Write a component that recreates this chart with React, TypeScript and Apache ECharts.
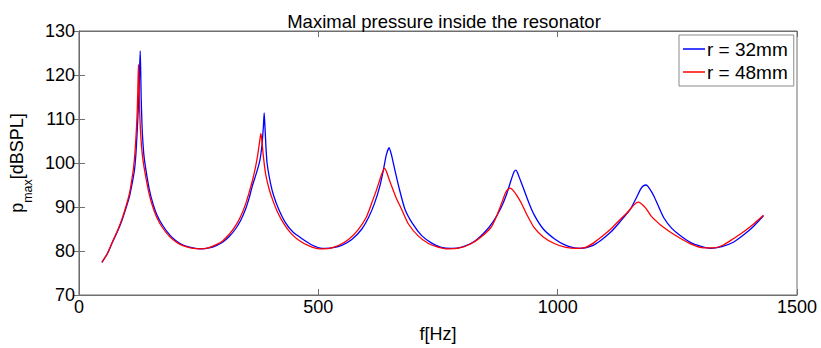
import React, { useEffect, useRef } from "react";
import * as echarts from "echarts";

const titleText = "Maximal pressure inside the resonator";
const seriesNames = ["r = 32mm", "r = 48mm"];
const xTicks = [0, 500, 1000, 1500];
const yTicks = [70, 80, 90, 100, 110, 120, 130];

// r = 32mm : [frequency Hz, maximal pressure dBSPL]
const blueData: number[][] = [
  [48, 77.4], [60, 79.5], [70, 82], [80, 84.3], [90, 87], [100, 90.3], [106, 92.6], [112, 95.8], [116, 98.4],
  [119, 102], [121, 105.8], [123, 110], [124.5, 113.5], [126, 118], [127, 122], [128, 125.5], [129, 121],
  [130, 115], [131.5, 109.5], [133, 105.8], [136, 101.5], [140, 98.4], [147, 94], [154, 91], [163, 88.2],
  [175, 85.8], [190, 83.6], [202, 82.4], [220, 81.2], [238, 80.7], [255, 80.5], [272, 80.7], [288, 81.3],
  [300, 82], [314, 83.3], [327, 85], [338, 87], [348, 89.5], [356, 92.2], [362, 94.7], [371, 97.8],
  [378, 100.6], [382.5, 104.2], [385.5, 108.6], [387, 111.4], [388.5, 108.5], [390.5, 104], [393, 100],
  [400, 95.5], [407, 92.5], [418, 89.3], [431, 86.5], [447, 84.3], [466, 82.8], [488, 81.3], [508, 80.6],
  [528, 80.7], [549, 81.3], [570, 82.6], [591, 85], [605, 87.6], [618, 91], [628, 94.5], [636, 98.4],
  [642, 101.8], [648, 103.5], [653, 101.8], [660, 98.4], [670, 93.8], [681, 89.5], [697, 86.2], [716, 83.5],
  [737, 81.8], [757, 80.8], [778, 80.6], [800, 80.9], [825, 82.1], [847, 84.2], [865, 86.6], [882, 89.9],
  [893, 92.8], [903, 96.2], [909, 98], [913, 98.4], [918, 97.3], [927, 94.7], [939, 91.2], [951, 88.2],
  [970, 85], [993, 82.8], [1015, 81.4], [1035, 80.7], [1048, 80.6], [1070, 81.1], [1090, 82.4], [1111, 84.3],
  [1130, 86.6], [1152, 89.5], [1165, 92.2], [1173, 94], [1179, 94.8], [1185, 95], [1192, 94.2], [1201, 92.5],
  [1212, 89.8], [1222, 87.5], [1238, 85.2], [1256, 83.5], [1278, 81.9], [1298, 81.1], [1319, 80.6],
  [1343, 81], [1367, 82], [1390, 83.8], [1410, 85.7], [1430, 88]
];

// r = 48mm : [frequency Hz, maximal pressure dBSPL]
const redData: number[][] = [
  [48, 77.4], [60, 79.6], [70, 82.1], [80, 84.5], [90, 87.3], [100, 90.8], [106, 93.3], [111, 96.6], [114, 98.8],
  [117, 102.3], [119.5, 106.5], [121.5, 111], [123, 116.5], [124.3, 122.4], [125.5, 118], [126.8, 112],
  [128.5, 107.5], [131, 103.5], [134, 100.5], [138, 97.8], [145, 93.8], [152, 90.8], [162, 87.8],
  [174, 85.4], [190, 83.2], [205, 81.9], [220, 81.1], [238, 80.6], [252, 80.5], [270, 80.7], [288, 81.5],
  [300, 82.3], [314, 83.8], [327, 85.7], [338, 87.9], [348, 90.6], [356, 93.5], [362, 95.8], [368, 98.6],
  [373, 101.5], [377, 104.5], [380, 106.7], [382, 105.3], [385, 101.8], [390, 97.5], [397, 94.2],
  [405, 91.5], [415, 88.8], [428, 86.2], [443, 84], [460, 82.4], [482, 81.1], [503, 80.5], [523, 80.6],
  [543, 81.3], [563, 82.6], [583, 84.8], [600, 87.6], [612, 91], [622, 94], [630, 96.7], [635, 98.2],
  [638, 98.8], [642, 98.2], [647, 96.6], [653, 94.8], [663, 92], [674, 89.5], [688, 86.2], [708, 83.5],
  [730, 81.7], [750, 80.9], [770, 80.5], [795, 80.7], [818, 81.6], [840, 83.2], [861, 85.4], [872, 87.8],
  [882, 90.6], [891, 93.2], [897, 94.1], [901, 94.3], [906, 93.9], [915, 92.6], [924, 90.9], [935, 88.4],
  [951, 85.3], [970, 83.2], [993, 81.7], [1015, 80.9], [1040, 80.6], [1060, 80.9], [1076, 81.9],
  [1095, 83.5], [1111, 85], [1130, 87.1], [1146, 88.8], [1158, 90.3], [1164, 90.9], [1168, 91.1],
  [1174, 90.8], [1181, 90.1], [1187, 89.3], [1195, 88], [1205, 86.9], [1215, 85.9], [1235, 84.3],
  [1256, 82.9], [1280, 81.5], [1305, 80.7], [1325, 80.7], [1345, 81.3], [1367, 82.8], [1390, 84.5],
  [1410, 86.2], [1430, 88.1]
];

const FONT = "'Liberation Sans', Arial, Helvetica, sans-serif";
const AXIS_GREY = "#6e6e6e";

export default function App() {
  const ref = useRef<HTMLDivElement>(null);

  useEffect(() => {
    if (!ref.current) return;
    const chart = echarts.init(ref.current, null, { renderer: "svg" });
    const xMin = xTicks[0];
    const xMax = xTicks[xTicks.length - 1];
    const yMin = yTicks[0];
    const yMax = yTicks[yTicks.length - 1];
    const xInt = xTicks[1] - xTicks[0];
    const yInt = yTicks[1] - yTicks[0];

    const tickStyle = { show: true, inside: true, length: 6, lineStyle: { color: AXIS_GREY, width: 1 } };
    const lineStyleAxis = { show: true, lineStyle: { color: AXIS_GREY, width: 1 } };
    const plain = (v: number) => String(v);

    chart.setOption({
      animation: false,
      backgroundColor: "#ffffff",
      textStyle: { fontFamily: FONT },
      title: {
        text: titleText,
        left: 439,
        textAlign: "center",
        top: 7,
        textStyle: { fontFamily: FONT, fontSize: 18.5, fontWeight: "normal", color: "#000" },
      },
      legend: {
        orient: "vertical",
        left: 679,
        top: 35,
        data: seriesNames.map((n) => ({ name: n, icon: "rect" })),
        itemWidth: 22,
        itemHeight: 1.5,
        itemGap: 3,
        padding: [4, 6, 4, 4],
        borderColor: "#8a8a8a",
        borderWidth: 1,
        backgroundColor: "#ffffff",
        textStyle: { fontFamily: FONT, fontSize: 19, color: "#000", padding: [0, 0, 0, -3], lineHeight: 20 },
      },
      grid: {
        left: 76,
        right: 24,
        top: 31,
        bottom: 47,
        show: true,
        borderColor: AXIS_GREY,
        borderWidth: 1,
        backgroundColor: "#ffffff",
      },
      xAxis: [
        {
          type: "value",
          min: xMin,
          max: xMax,
          interval: xInt,
          position: "bottom",
          name: "f[Hz]",
          nameLocation: "middle",
          nameGap: 30,
          nameTextStyle: { fontFamily: FONT, fontSize: 18, color: "#000" },
          axisLine: lineStyleAxis,
          axisTick: tickStyle,
          axisLabel: { color: "#000", fontSize: 18, fontFamily: FONT, margin: 3, formatter: plain },
          splitLine: { show: false },
        },
        {
          type: "value",
          min: xMin,
          max: xMax,
          interval: xInt,
          position: "top",
          axisLine: lineStyleAxis,
          axisTick: tickStyle,
          axisLabel: { show: false },
          splitLine: { show: false },
        },
      ],
      yAxis: [
        {
          type: "value",
          min: yMin,
          max: yMax,
          interval: yInt,
          position: "left",
          name: "{a|p}{s|max}{a|[dBSPL]}",
          nameLocation: "middle",
          nameRotate: 90,
          nameGap: 37,
          nameTextStyle: {
            fontFamily: FONT,
            color: "#000",
            rich: {
              a: { fontSize: 18, fontFamily: FONT, color: "#000", lineHeight: 22, verticalAlign: "middle" },
              s: { fontSize: 12.5, fontFamily: FONT, color: "#000", lineHeight: 22, verticalAlign: "bottom", padding: [0, 0, -6, 0] },
            },
          },
          axisLine: lineStyleAxis,
          axisTick: tickStyle,
          axisLabel: { color: "#000", fontSize: 18, fontFamily: FONT, margin: 4, formatter: plain },
          splitLine: { show: false },
        },
        {
          type: "value",
          min: yMin,
          max: yMax,
          interval: yInt,
          position: "right",
          axisLine: lineStyleAxis,
          axisTick: tickStyle,
          axisLabel: { show: false },
          splitLine: { show: false },
        },
      ],
      series: [
        {
          name: seriesNames[0],
          type: "line",
          data: blueData,
          showSymbol: false,
          symbol: "none",
          smooth: 0.2,
          lineStyle: { color: "#0000ff", width: 1.3 },
          itemStyle: { color: "#0000ff" },
          z: 2,
        },
        {
          name: seriesNames[1],
          type: "line",
          data: redData,
          showSymbol: false,
          symbol: "none",
          smooth: 0.2,
          lineStyle: { color: "#ff0000", width: 1.3 },
          itemStyle: { color: "#ff0000" },
          z: 3,
        },
      ],
    });
    return () => chart.dispose();
  }, []);

  return (
    <div
      ref={ref}
      style={{ position: "absolute", left: 0, top: 0, width: 821, height: 348, background: "#fff" }}
    />
  );
}
